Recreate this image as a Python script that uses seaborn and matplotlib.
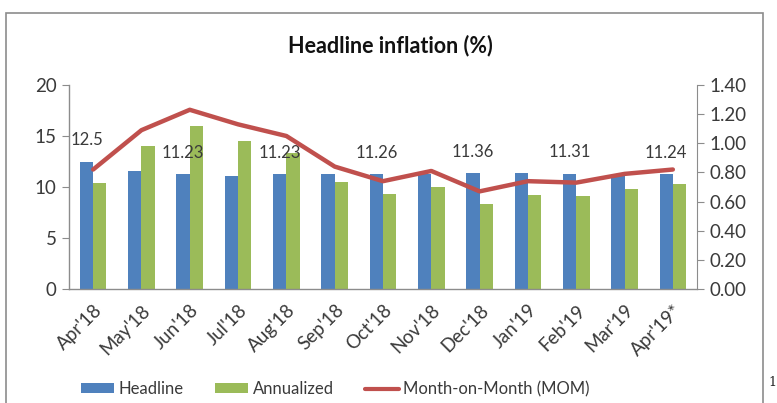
import numpy as np
import pandas as pd
import matplotlib
matplotlib.use("Agg")
import matplotlib.pyplot as plt
import seaborn as sns
from matplotlib.patches import Rectangle, Patch
from matplotlib.lines import Line2D

months = ["Apr'18", "May'18", "Jun'18", "Jul'18", "Aug'18", "Sep'18", "Oct'18",
          "Nov'18", "Dec'18", "Jan'19", "Feb'19", "Mar'19", "Apr'19*"]
headline = [12.5, 11.6, 11.23, 11.1, 11.23, 11.3, 11.26, 11.3, 11.36, 11.36, 11.31, 11.2, 11.24]
annualized = [10.4, 14.0, 16.0, 14.5, 13.3, 10.5, 9.3, 10.0, 8.3, 9.2, 9.1, 9.8, 10.3]
mom = [0.82, 1.09, 1.23, 1.13, 1.05, 0.84, 0.74, 0.81, 0.67, 0.74, 0.73, 0.79, 0.82]
label_months = ["Apr'18", "Jun'18", "Aug'18", "Oct'18", "Dec'18", "Feb'19", "Apr'19*"]
label_texts = ["12.5", "11.23", "11.23", "11.26", "11.36", "11.31", "11.24"]
left_ticks = [0, 5, 10, 15, 20]
right_ticks = [0.0, 0.2, 0.4, 0.6, 0.8, 1.0, 1.2, 1.4]

sns.set_style("white")
plt.rcParams['font.family'] = ['Lato', 'DejaVu Sans']

BLUE = "#4F81BD"
GREEN = "#9BBB59"
RED = "#C0504D"
GRAY = "#8C8C8C"
TXT = "#3A3A3A"

df = pd.DataFrame({"month": months * 2,
                   "value": headline + annualized,
                   "series": ["Headline"] * len(months) + ["Annualized"] * len(months)})

fig = plt.figure(figsize=(7.77, 4.03), dpi=100)
ax = fig.add_axes([69/777, 1-289/403, (697-69)/777, (289-85)/403])

sns.barplot(data=df, x="month", y="value", hue="series", order=months,
            hue_order=["Headline", "Annualized"], palette=[BLUE, GREEN],
            width=0.55, ax=ax, legend=False, saturation=1, linewidth=0)
ax.set_xlim(-0.5, len(months) - 0.5)
ax.set_ylim(0, 20)
ax.set_yticks(left_ticks)
ax.set_yticklabels([str(t) for t in left_ticks], fontsize=13.5, color=TXT)
ax.set_xlabel("")
ax.set_ylabel("")
ax.set_xticks(range(len(months)))
ax.set_xticklabels(months, rotation=45, ha="right", rotation_mode="anchor",
                   fontsize=13.5, color=TXT)
ax.tick_params(axis="x", which="major", length=0, pad=9)
ax.set_xticks(np.arange(-0.5, len(months), 1), minor=True)
ax.tick_params(axis="x", which="minor", length=6, color=GRAY, direction="out")
ax.tick_params(axis="y", length=5, color=GRAY, direction="out", left=True, pad=4)
for s in ["left", "bottom"]:
    ax.spines[s].set_color(GRAY)
    ax.spines[s].set_linewidth(1)
ax.spines["top"].set_visible(False)
ax.spines["right"].set_visible(False)

# data labels above headline bars
for m, t in zip(label_months, label_texts):
    i = months.index(m)
    v = headline[i]
    ax.text(i - 0.1375, v + 1.3, t, ha="center", va="bottom", fontsize=12, color=TXT)

ax2 = ax.twinx()
sns.lineplot(x=months, y=mom, ax=ax2, color=RED, linewidth=3.2, sort=False)
ax2.set_ylim(0, 1.4)
ax2.set_yticks(right_ticks)
ax2.set_yticklabels([f"{t:.2f}" for t in right_ticks], fontsize=13.5, color=TXT)
ax2.tick_params(axis="y", length=5, color=GRAY, direction="out", right=True, pad=4)
ax2.spines["right"].set_color(GRAY)
for s in ["left", "top", "bottom"]:
    ax2.spines[s].set_visible(False)
ax2.set_ylabel("")
ax2.set_xlim(-0.5, len(months) - 0.5)

fig.text(390/777, 1-46/403, "Headline inflation (%)", ha="center", va="center",
         fontsize=15.5, fontweight="bold", color="#111111")

# chart border
fig.patches.append(Rectangle((6/777, -0.05), (763-6)/777, 1.05 - 13/403,
                             transform=fig.transFigure, fill=False,
                             edgecolor=GRAY, linewidth=1.2))
fig.text(772/777, 1-383/403, "1", ha="center", va="center", fontsize=9,
         family="DejaVu Serif", color="#222222")

handles = [Patch(facecolor=BLUE, edgecolor="none"),
           Patch(facecolor=GREEN, edgecolor="none"),
           Line2D([0], [0], color=RED, linewidth=3)]
fig.legend(handles, ["Headline", "Annualized", "Month-on-Month (MOM)"],
           loc="center", bbox_to_anchor=(335/777, 1-389/403), ncol=3, frameon=False,
           fontsize=12, handlelength=2.0, handleheight=0.5, columnspacing=1.9,
           handletextpad=0.25, labelcolor=TXT)

fig.savefig("out.png", dpi=100)
